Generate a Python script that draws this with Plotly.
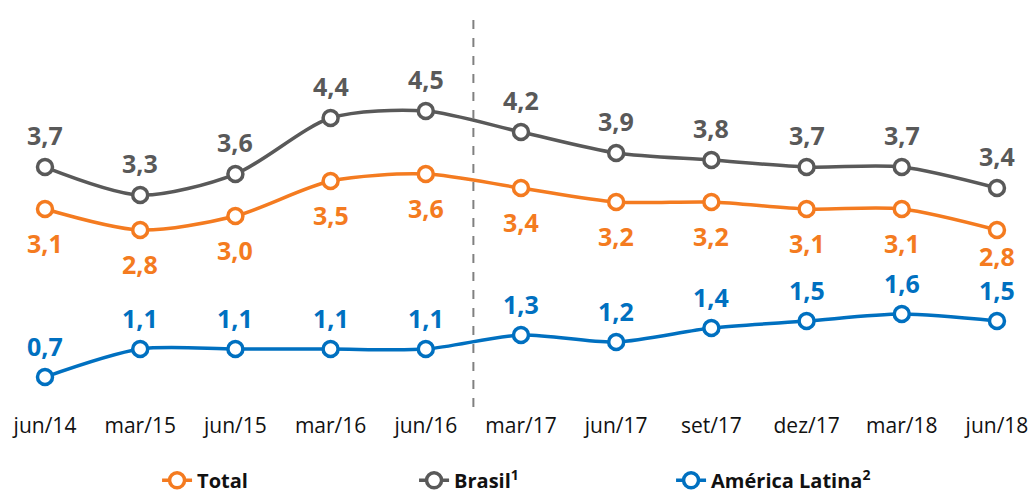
import plotly.graph_objects as go

categories = ["jun/14", "mar/15", "jun/15", "mar/16", "jun/16", "mar/17",
              "jun/17", "set/17", "dez/17", "mar/18", "jun/18"]
total = [3.1, 2.8, 3.0, 3.5, 3.6, 3.4, 3.2, 3.2, 3.1, 3.1, 2.8]
brasil = [3.7, 3.3, 3.6, 4.4, 4.5, 4.2, 3.9, 3.8, 3.7, 3.7, 3.4]
america = [0.7, 1.1, 1.1, 1.1, 1.1, 1.3, 1.2, 1.4, 1.5, 1.6, 1.5]

series = [
    ("Total", total, "#F47B20", -34),
    ("Brasil<sup>1</sup>", brasil, "#595959", 32),
    ("América Latina<sup>2</sup>", america, "#0070C0", 31),
]
# label offset overrides (style only): the last Total label sits closer to its marker
shift_override = {("Total", "jun/18"): -26}

FONT = "Open Sans"
fig = go.Figure()
annotations = []
for name, vals, color, shift in series:
    fig.add_trace(go.Scatter(
        x=categories, y=vals, name=name, mode="lines+markers",
        line=dict(color=color, width=3.5, shape="spline", smoothing=0.8),
        marker=dict(symbol="circle", size=15, color="white",
                    line=dict(color=color, width=3.5)),
        hoverinfo="skip",
    ))
    for c, v in zip(categories, vals):
        annotations.append(dict(
            x=c, y=v, xref="x", yref="y", showarrow=False,
            text=f"{v:.1f}".replace(".", ","),
            yshift=shift_override.get((name, c), shift),
            font=dict(family=FONT, size=25, color=color, weight="bold"),
        ))

fig.update_layout(
    width=1028, height=485,
    margin=dict(l=0, r=0, t=0, b=82, autoexpand=False),
    plot_bgcolor="white", paper_bgcolor="white",
    xaxis=dict(type="category", range=[-0.3887, 10.41], showgrid=False,
               showline=False, zeroline=False, ticks="", automargin=False,
               tickfont=dict(family=FONT, size=21, color="#111111")),
    yaxis=dict(range=[0.215, 5.972], visible=False, showgrid=False,
               automargin=False),
    annotations=annotations,
    shapes=[dict(type="line", xref="x", yref="paper", x0=4.5, x1=4.5,
                 y0=0.01, y1=0.99,
                 line=dict(color="#808080", width=2, dash="dash"))],
    showlegend=True,
    legend=dict(orientation="h", x=0.145, xanchor="left", y=-0.172,
                yanchor="middle", entrywidth=212, entrywidthmode="pixels",
                font=dict(family=FONT, size=20, color="#111111", weight="bold"),
                bgcolor="rgba(0,0,0,0)", itemwidth=30),
)

fig.write_html("out.html")
